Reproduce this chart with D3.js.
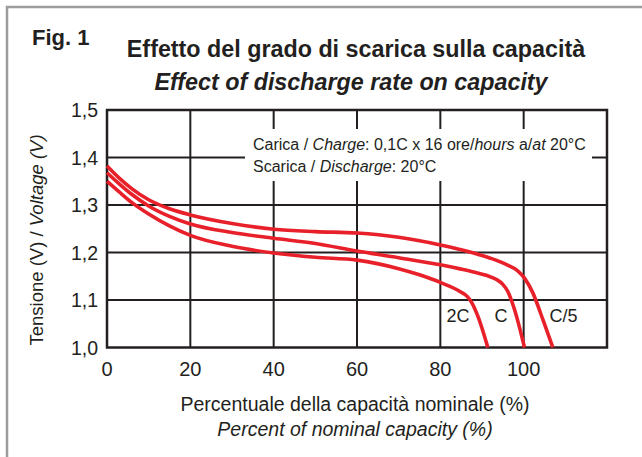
<!DOCTYPE html>
<html>
<head>
<meta charset="utf-8">
<script src="https://cdn.jsdelivr.net/npm/d3@7"></script>
<style>
  html, body { margin: 0; padding: 0; background: #fff; }
  svg { display: block; font-family: "Liberation Sans", Arial, Helvetica, sans-serif; }
</style>
</head>
<body>
<svg id="chart" width="642" height="457"></svg>
<script>
// ---- data ----
const xTicks = [0, 20, 40, 60, 80, 100];
const yTicks = [1.0, 1.1, 1.2, 1.3, 1.4, 1.5];
const yTickLabels = ["1,0", "1,1", "1,2", "1,3", "1,4", "1,5"];

const seriesNames = ["C/5", "C", "2C"];
const capC5 = [0, 3, 6, 10, 15, 20, 30, 40, 50, 60, 70, 80, 85, 88, 92, 96, 98.5, 100.2, 102.2, 104.6, 107];
const voltC5 = [1.382, 1.356, 1.334, 1.311, 1.292, 1.279, 1.261, 1.249, 1.244, 1.241, 1.232, 1.216, 1.206, 1.199, 1.188, 1.174, 1.162, 1.146, 1.115, 1.059, 1.0];
const capC = [0, 3, 6, 10, 15, 20, 30, 40, 50, 60, 70, 80, 85, 88, 91, 93.5, 95, 96.2, 97.8, 100.2];
const voltC = [1.368, 1.344, 1.322, 1.298, 1.276, 1.260, 1.242, 1.230, 1.219, 1.203, 1.189, 1.174, 1.165, 1.159, 1.152, 1.143, 1.133, 1.118, 1.080, 1.0];
const cap2C = [0, 3, 6, 10, 15, 20, 30, 40, 50, 60, 70, 75, 80, 84.7, 86.5, 87.5, 89, 91.4];
const volt2C = [1.350, 1.327, 1.305, 1.281, 1.256, 1.236, 1.213, 1.199, 1.190, 1.184, 1.166, 1.153, 1.137, 1.118, 1.107, 1.095, 1.066, 1.0];

const labelCap = [106.2, 93.0, 81.5];   // label anchor (x) for C/5, C, 2C
const labelVolt = [1.05, 1.05, 1.05];

const titleLine1 = "Effetto del grado di scarica sulla capacità";
const titleLine2 = "Effect of discharge rate on capacity";

// ---- layout ----
const svg = d3.select("#chart");
const x = d3.scaleLinear().domain([0, 120]).range([107, 607]);
const y = d3.scaleLinear().domain([1.0, 1.5]).range([347.5, 110]);
const ink = "#231f20";
const red = "#e8202a";

// outer frame
svg.append("rect").attr("x", 7).attr("y", 7).attr("width", 660).attr("height", 470)
  .attr("fill", "#fff").attr("stroke", "#9d9d9d").attr("stroke-width", 2.5);

// Fig. 1 + titles
svg.append("text").attr("x", 32).attr("y", 45).attr("font-size", 22).attr("font-weight", "bold")
  .attr("fill", ink).text("Fig. 1");
svg.append("text").attr("x", 356).attr("y", 57).attr("text-anchor", "middle")
  .attr("font-size", 23.3).attr("font-weight", "bold").attr("fill", ink).text(titleLine1);
svg.append("text").attr("x", 351).attr("y", 90).attr("text-anchor", "middle")
  .attr("font-size", 23.3).attr("font-weight", "bold").attr("font-style", "italic")
  .attr("fill", ink).text(titleLine2);

// grid
const grid = svg.append("g").attr("stroke", ink).attr("stroke-width", 2);
grid.selectAll("line.v").data(xTicks.filter(d => d > 0)).join("line")
  .attr("x1", d => x(d)).attr("x2", d => x(d)).attr("y1", y(1.5)).attr("y2", y(1.0));
grid.selectAll("line.h").data(yTicks.filter(d => d > 1.0 && d < 1.5)).join("line")
  .attr("x1", x(0)).attr("x2", x(120)).attr("y1", d => y(d)).attr("y2", d => y(d));

// annotation box (white, covering grid)
svg.append("rect").attr("x", 245).attr("y", 129).attr("width", 347).attr("height", 52).attr("fill", "#fff");
const ann = svg.append("g").attr("font-size", 16).attr("fill", ink);
const t1 = ann.append("text").attr("x", 253).attr("y", 150);
t1.append("tspan").text("Carica / ");
t1.append("tspan").attr("font-style", "italic").text("Charge");
t1.append("tspan").text(": 0,1C x 16 ore/");
t1.append("tspan").attr("font-style", "italic").text("hours");
t1.append("tspan").text(" a/");
t1.append("tspan").attr("font-style", "italic").text("at");
t1.append("tspan").text(" 20°C");
const t2 = ann.append("text").attr("x", 253).attr("y", 172);
t2.append("tspan").text("Scarica / ");
t2.append("tspan").attr("font-style", "italic").text("Discharge");
t2.append("tspan").text(": 20°C");

// plot border
svg.append("rect").attr("x", x(0)).attr("y", y(1.5)).attr("width", x(120) - x(0)).attr("height", y(1.0) - y(1.5))
  .attr("fill", "none").attr("stroke", ink).attr("stroke-width", 2.5);

// curves
const series = [
  { name: seriesNames[0], xs: capC5, ys: voltC5 },
  { name: seriesNames[1], xs: capC, ys: voltC },
  { name: seriesNames[2], xs: cap2C, ys: volt2C }
];
const line = d3.line().x(d => x(d[0])).y(d => y(d[1])).curve(d3.curveMonotoneX);
svg.append("g").selectAll("path").data(series).join("path")
  .attr("d", s => line(s.xs.map((v, i) => [v, s.ys[i]])))
  .attr("fill", "none").attr("stroke", red).attr("stroke-width", 3.6).attr("stroke-linejoin", "round");

// series labels
svg.append("g").selectAll("text").data(seriesNames).join("text")
  .attr("x", (d, i) => x(labelCap[i])).attr("y", (d, i) => y(labelVolt[i]) - 2)
  .attr("font-size", 18).attr("fill", ink).text(d => d);

// axes tick labels
svg.append("g").selectAll("text").data(xTicks).join("text")
  .attr("x", d => x(d)).attr("y", 375.5).attr("text-anchor", "middle")
  .attr("font-size", 20).attr("fill", ink).text(d => d);
svg.append("g").selectAll("text").data(yTicks).join("text")
  .attr("x", 98).attr("y", d => y(d)).attr("dy", "0.36em").attr("text-anchor", "end")
  .attr("font-size", 19.5).attr("fill", ink).text((d, i) => yTickLabels[i]);

// axis titles
const xt = svg.append("g").attr("font-size", 19.5).attr("fill", ink).attr("text-anchor", "middle");
xt.append("text").attr("x", 355).attr("y", 411).text("Percentuale della capacità nominale (%)");
xt.append("text").attr("x", 355).attr("y", 436).attr("font-style", "italic").text("Percent of nominal capacity (%)");

const yt = svg.append("text").attr("transform", "translate(43,240) rotate(-90)")
  .attr("text-anchor", "middle").attr("font-size", 18.5).attr("fill", ink);
yt.append("tspan").text("Tensione (V) / ");
yt.append("tspan").attr("font-style", "italic").text("Voltage (V)");
</script>
</body>
</html>
